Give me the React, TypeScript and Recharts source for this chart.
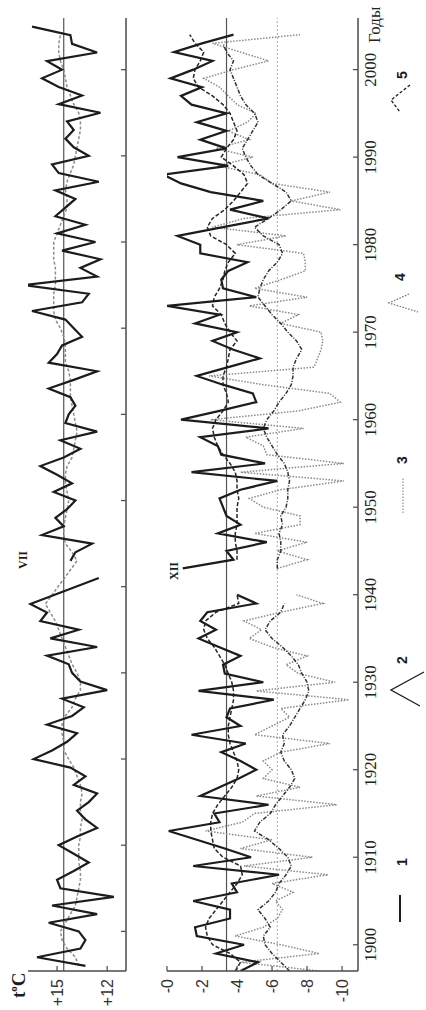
import { LineChart, Line, XAxis, YAxis, ReferenceLine, Legend } from 'recharts'

const W = 1010
const H = 426
const firstYear = 1896

const decades = [1900, 1910, 1920, 1930, 1940, 1950, 1960, 1970, 1980, 1990, 2000]
const julyTicks = [12, 15]
const decTicks = [0, -2, -4, -6, -8, -10]

// VII, 1896..2005 (one value per year)
const julyTemp = [
  13.3, 16.2, 13.6, 13.3, 13.7, 15.5, 12.6, 15.3, 11.6, 14.8,
  15.0, 14.0, 13.1, 14.0, 14.9, 13.8, 12.6, 13.3, 13.8, 13.1,
  12.6, 14.0, 13.3, 14.2, 16.4, 15.3, 14.4, 13.8, 15.6, 14.1,
  13.4, 14.7, 12.0, 13.6, 14.1, 14.3, 15.6, 12.6, 15.4, 13.7,
  16.0, 15.6, 16.6, null, null, 12.5, null, 14.2, 13.9, 12.9,
  15.9, 14.6, 15.1, 14.4, 13.9, 15.2, 14.1, 15.0, 16.0, 14.6,
  13.6, 14.8, 12.6, 14.5, 14.3, 13.9, 14.2, 15.5, 14.0, 12.6,
  15.5, 15.0, 14.7, 13.5, 14.0, 14.5, 16.5, 13.5, 13.1, 17.0,
  12.6, 13.6, 12.4, 14.7, 12.7, 15.0, 13.3, 15.1, 14.5, 13.9,
  15.1, 12.5, 14.9, 15.3, 13.1, 14.0, 14.5, 14.0, 14.4, 12.4,
  14.9, 13.5, 14.9, 15.9, 14.7, 15.6, 12.6, 14.1, 14.2, 16.5,
]
const julySmooth = [
  13.7, 13.9, 14.4, 14.7, 14.8, 14.5, 14.2, 13.9, 13.8, 13.7,
  13.6, 13.6, 13.7, 13.7, 13.7, 13.6, 13.6, 13.5, 13.6, 13.6,
  13.5, 13.6, 13.8, 14.0, 14.3, 14.6, 14.6, 14.7, 14.7, 14.5,
  14.1, 13.9, 13.6, 13.6, 13.8, 14.1, 14.3, 14.5, 14.7, 14.9,
  15.1, 15.4, 15.7, null, null, null, null, 13.8, 14.1, 14.5,
  14.6, 14.6, 14.5, 14.4, 14.3, 14.4, 14.5, 14.5, 14.4, 14.1,
  14.0, 13.9, 13.8, 13.9, 14.0, 14.1, 14.2, 14.2, 14.2, 14.3,
  14.5, 14.5, 14.5, 14.6, 14.8, 15.1, 15.2, 15.2, 15.2, 15.1,
  15.1, 15.1, 15.2, 15.2, 15.2, 15.0, 14.8, 14.6, 14.4, 14.4,
  14.5, 14.4, 14.2, 14.0, 13.9, 13.8, 13.7, 13.6, 13.6, 13.7,
  14.0, 14.2, 14.4, 14.5, 14.6, 14.8, 14.9, 14.9, 14.8, null,
]
const julyMean = 14.6

// XII, 1896..2005
const decTemp = [
  null, -4.2, -5.2, -2.8, -4.4, -1.7, -1.6, -3.6, -3.6, -1.5,
  -4.0, -3.7, -6.4, -1.5, -4.8, -3.3, -1.7, -0.1, -3.0, -2.7,
  -5.8, -1.9, -3.0, -4.1, -5.1, -4.2, -3.1, -4.5, -1.4, -4.2,
  -3.4, -3.6, -6.1, -1.8, -5.5, -3.3, -3.2, -4.2, -3.0, -1.8,
  -2.8, -1.9, -2.3, -5.1, -4.0, null, null, -0.9, -3.8, -3.4,
  -5.7, -2.9, -4.2, -3.4, -3.2, -3.0, -4.2, -6.3, -1.4, -5.6,
  -3.1, -2.9, -1.9, -5.8, -0.8, -3.0, -5.1, -4.9, -3.2, -1.7,
  -3.5, -5.3, -3.8, -2.6, -4.0, -1.6, -3.0, 0.0, -5.1, -3.2,
  -3.1, -3.5, -4.6, -1.9, -1.9, -0.6, -3.2, -5.8, -3.6, -5.5,
  -2.5, -0.8, 0.2, -3.5, -0.6, -3.4, -1.9, -3.4, -1.7, -3.4,
  -1.4, -0.8, -2.0, -0.2, -1.5, -2.6, -0.4, -2.0, -3.8, null,
]
const decSmooth = [
  null, -3.9, -4.2, -3.6, -2.6, -2.3, -2.2, -2.4, -2.8, -3.2,
  -3.6, -4.0, -4.3, -4.2, -3.2, -2.7, -2.6, -2.5, -2.5, -2.6,
  -2.9, -3.3, -3.7, -4.0, -4.1, -4.0, -3.8, -3.6, -3.5, -3.5,
  -3.6, -3.7, -3.8, -3.8, -3.7, -3.5, -3.3, -3.0, -2.7, -2.3,
  -2.1, -2.2, -2.8, -4.1, -4.0, null, null, null, -4.0, -4.0,
  -3.9, -3.9, -4.0, -4.0, -4.0, -4.1, -4.0, -4.0, -3.9, -3.6,
  -3.2, -2.9, -2.7, -2.6, -2.8, -3.2, -3.5, -3.4, -3.2, -3.2,
  -3.4, -3.5, -3.6, -4.0, -3.6, -3.3, -3.1, -2.6, -2.7, -3.0,
  -3.2, -3.3, -3.5, -3.9, -3.4, -2.5, -2.3, -2.6, -3.3, -3.8,
  -4.2, -4.6, -4.4, -3.8, -3.1, -3.4, -3.8, -4.0, -3.8, -3.6,
  -3.2, -2.6, -1.8, -1.5, -1.6, -1.9, -2.1, -1.6, -1.3, null,
]
const decTemp2 = [
  null, -8.7, -4.2, -8.7, -6.5, -3.9, -5.5, -6.3, -6.6, -6.2,
  -7.2, -6.0, -9.2, -4.4, -8.3, -4.2, -6.0, -2.2, -4.3, -5.0,
  -9.7, -5.1, -7.6, -5.5, -6.0, -5.5, -6.5, -9.3, -5.0, -6.0,
  -7.0, -6.5, -10.4, -5.1, -9.6, -7.5, -6.8, -8.0, -6.0, -4.7,
  -5.4, -4.4, -6.5, -8.9, -7.4, null, null, -6.3, -8.0, -6.3,
  -8.0, -5.0, -7.6, -7.6, -5.5, -4.7, -6.5, -10.1, -4.2, -10.1,
  -5.7, -5.5, -4.5, -7.8, -2.5, -7.5, -9.9, -9.3, -5.5, -2.4,
  -8.4, -8.6, -8.8, -8.9, -8.8, -6.5, -7.5, -4.7, -8.0, -5.0,
  -6.5, -7.9, -7.9, -7.8, -4.0, -6.8, -2.6, -4.4, -9.9, -7.1,
  -9.3, -6.0, -5.3, -2.9, -4.9, -2.8, -4.7, -3.5, -4.6, -5.1,
  -4.0, -3.5, -3.0, -2.1, -3.8, -5.8, -4.2, -2.6, -7.6, null,
]
const decSmooth2 = [
  null, -7.0, -6.5, -6.0, -5.6, -5.5, -5.9, -5.6, -5.2, -5.8,
  -6.2, -6.4, -6.8, -7.1, -6.9, -6.4, -5.8, -5.0, -5.3, -5.9,
  -6.2, -6.6, -7.0, -7.3, -7.1, -6.7, -6.5, -6.7, -6.6, -7.0,
  -7.3, -7.6, -7.9, -8.1, -8.0, -7.7, -7.5, -7.1, -6.6, -6.0,
  -5.6, -5.9, -6.5, -6.7, null, null, null, -6.3, -6.3, -6.5,
  -6.5, -6.4, -6.6, -6.5, -6.8, -6.9, -6.9, -7.0, -6.9, -6.7,
  -6.3, -6.0, -5.7, -5.5, -5.7, -6.1, -6.4, -6.8, -7.1, -7.2,
  -7.2, -7.4, -7.7, -7.4, -6.9, -6.5, -6.0, -5.6, -5.2, -5.3,
  -5.5, -5.8, -6.3, -6.6, -6.4, -5.5, -5.0, -5.8, -6.5, -7.1,
  -6.8, -6.0, -5.2, -4.8, -4.5, -4.3, -4.6, -4.9, -5.2, -5.0,
  -4.5, -4.2, -4.0, -3.8, -3.6, -3.8, -3.4, -3.2, null, null,
]
const decMean = -3.4
const decNorm = -6.3

// points of one series between two years, gaps inside are bridged
function pts(values: (number | null)[], from: number, to: number) {
  const out: { year: number; v: number }[] = []
  values.forEach((v, i) => {
    const year = firstYear + i
    if (v !== null && year >= from && year <= to) out.push({ year, v })
  })
  return out
}

const INK = '#1c1c1c'
const AXIS = '#4a4a4a'
const sans = '"Liberation Sans", Arial, sans-serif'
const serif = '"Liberation Serif", "Times New Roman", serif'

const bold = { stroke: INK, strokeWidth: 2.2 }
const grayDash = { stroke: '#8c8c8c', strokeWidth: 1.5, strokeDasharray: '3 2' }
const blackDash = { stroke: '#262626', strokeWidth: 1.5, strokeDasharray: '4 2' }
const grayDot = { stroke: '#8a8a8a', strokeWidth: 1.5, strokeDasharray: '1.5 1.5' }
const dashDot = { stroke: '#333', strokeWidth: 1.5, strokeDasharray: '4 1.5 1 1.5' }

function seg(key: string, data: { year: number; v: number }[], style: object) {
  return (
    <Line
      key={key}
      data={data}
      dataKey="v"
      type="linear"
      dot={false}
      activeDot={false}
      isAnimationActive={false}
      {...style}
    />
  )
}

function Decor() {
  const lab = { fontFamily: sans, fontWeight: 'bold' as const, fontSize: 14, fill: INK, textAnchor: 'middle' as const }
  return (
    <svg width={W} height={H} style={{ overflow: 'visible' }}>
      <text x={12} y={25} fontFamily={serif} fontWeight="bold" fontSize={19} fill={INK}>
        t<tspan fontSize={11} dy={-8}>o</tspan><tspan dy={8}>C</tspan>
      </text>
      <text x={450} y={27} fontFamily={serif} fontWeight="bold" fontSize={12} fill={INK} textAnchor="middle">VII</text>
      <text x={439} y={178} fontFamily={serif} fontWeight="bold" fontSize={12} fill={INK} textAnchor="middle">XII</text>
      <text x={967} y={380} fontFamily={serif} fontSize={17} fill="#222">Годы</text>

      <line x1={88} y1={400} x2={115} y2={400} stroke={INK} strokeWidth={2} />
      <text x={148} y={407} {...lab}>1</text>
      <polyline points="338,424 320,391 304,420" fill="none" stroke={INK} strokeWidth={1.3} />
      <text x={350} y={407} {...lab}>2</text>
      <line x1={497} y1={403} x2={533} y2={403} stroke="#999" strokeWidth={1.3} strokeDasharray="1.5 1.5" />
      <text x={550} y={407} {...lab}>3</text>
      <polyline points="716,409 707,389 698,418" fill="none" stroke="#777" strokeWidth={1.3} strokeDasharray="1.5 1.5" />
      <text x={733} y={405} {...lab}>4</text>
      <polyline points="925,410 910,391 898,400" fill="none" stroke={INK} strokeWidth={1.3} strokeDasharray="3 2" />
      <text x={935} y={407} {...lab}>5</text>
    </svg>
  )
}

export default function App() {
  return (
    <div style={{ position: 'absolute', left: 0, top: 0, width: H, height: W, overflow: 'hidden', background: '#fff' }}>
      <div
        style={{
          position: 'absolute', left: 0, top: 0, width: W, height: H,
          transformOrigin: '0 0', transform: `translateY(${W}px) rotate(-90deg)`,
        }}
      >
        {/* VII panel */}
        <div style={{ position: 'absolute', left: 0, top: 0 }}>
          <LineChart width={W} height={H} margin={{ top: 28, right: 18, bottom: 270, left: 0 }}>
            <XAxis
              type="number" dataKey="year" domain={[1895.4, 2006]} ticks={decades}
              allowDataOverflow height={30} tickFormatter={() => ''} tickSize={-5}
              axisLine={{ stroke: AXIS, strokeWidth: 1.5 }} tickLine={{ stroke: AXIS, strokeWidth: 1.2 }}
            />
            <YAxis
              type="number" domain={[10.87, 16.74]} ticks={julyTicks} allowDataOverflow width={39}
              tickFormatter={(v) => `+${v}`} tickSize={-5} tickMargin={13}
              tick={{ fontSize: 16, fill: '#333', fontFamily: sans }}
              axisLine={{ stroke: AXIS, strokeWidth: 1.5 }} tickLine={{ stroke: AXIS, strokeWidth: 1.2 }}
            />
            <ReferenceLine y={julyMean} stroke="#555" strokeWidth={1.2} />
            {seg('js', pts(julySmooth, 1896, 2005), grayDash)}
            {seg('ja', pts(julyTemp, 1896, 1941), bold)}
            {seg('jb', pts(julyTemp, 1943, 2005), bold)}
          </LineChart>
        </div>

        {/* XII panel */}
        <div style={{ position: 'absolute', left: 0, top: 0 }}>
          <LineChart width={W} height={H} margin={{ top: 167, right: 18, bottom: 38, left: 0 }}>
            <XAxis
              type="number" dataKey="year" domain={[1897, 2005.9]} ticks={decades}
              allowDataOverflow height={30} tickSize={-5} tickMargin={11}
              tick={{ fontSize: 17, fill: '#222', fontFamily: serif }}
              axisLine={{ stroke: AXIS, strokeWidth: 1.5 }} tickLine={{ stroke: AXIS, strokeWidth: 1.2 }}
            />
            <YAxis
              type="number" domain={[-10.91, 0]} ticks={decTicks} allowDataOverflow width={39}
              tickFormatter={(v) => (v === 0 ? '-0' : String(v))} tickSize={-5} tickMargin={13}
              tick={{ fontSize: 16, fill: '#333', fontFamily: sans }}
              axisLine={{ stroke: AXIS, strokeWidth: 1.5 }} tickLine={{ stroke: AXIS, strokeWidth: 1.2 }}
            />
            <ReferenceLine y={decNorm} stroke="#aaa" strokeWidth={1} strokeDasharray="2 2" />
            <ReferenceLine y={decMean} stroke="#555" strokeWidth={1.2} />
            {seg('d4a', pts(decTemp2, 1897, 1940), grayDot)}
            {seg('d4b', pts(decTemp2, 1943, 2005), grayDot)}
            {seg('d2a', pts(decSmooth2, 1897, 1939), dashDot)}
            {seg('d2b', pts(decSmooth2, 1943, 2005), dashDot)}
            {seg('d5a', pts(decSmooth, 1897, 1940), blackDash)}
            {seg('d5b', pts(decSmooth, 1944, 2005), blackDash)}
            {seg('d1a', pts(decTemp, 1897, 1940), bold)}
            {seg('d1b', pts(decTemp, 1943, 2005), bold)}
            <Legend
              layout="horizontal" verticalAlign="middle" align="center"
              wrapperStyle={{ left: 0, top: 0, width: W, height: H, pointerEvents: 'none' }}
              content={() => <Decor />}
            />
          </LineChart>
        </div>
      </div>
    </div>
  )
}
